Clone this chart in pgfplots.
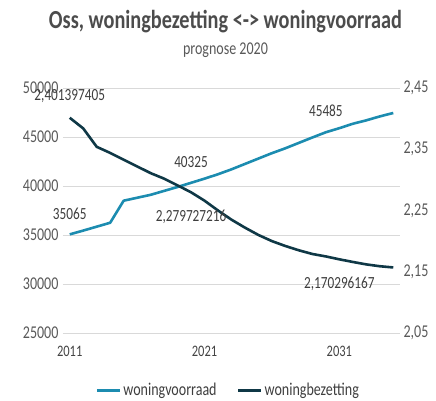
\documentclass[border=0pt]{standalone}
\usepackage{fontspec}
\setmainfont{Carlito}[FakeStretch=0.78]
\usepackage{pgfplots}
\pgfplotsset{compat=1.18}

\definecolor{voorraad}{HTML}{1C8CB0}
\definecolor{bezetting}{HTML}{0F3846}
\definecolor{txt}{HTML}{595959}
\definecolor{grid}{HTML}{D9D9D9}

\newcommand{\fs}[1]{\fontsize{#1}{#1}\selectfont}

\begin{document}
\begin{tikzpicture}
\useasboundingbox (-63pt,-68pt) rectangle (373pt,333pt);

\pgfplotsset{
  common/.style={
    scale only axis,
    width=337pt, height=245pt,
    xmin=2010.5, xmax=2035.5,
    axis line style={draw=none},
    tick style={draw=none},
    tick label style={font=\fs{18}, text=txt},
    /pgf/number format/assume math mode=true,
  },
}

% woningvoorraad, linker as
\begin{axis}[
  common,
  ymin=25000, ymax=50000,
  ytick={25000,30000,...,50000},
  scaled y ticks=false,
  yticklabel style={/pgf/number format/1000 sep={}, xshift=-1pt},
  xtick={2011,2021,2031},
  xticklabel style={/pgf/number format/1000 sep={}, font=\fs{16}, text=txt!75!black, yshift=-10pt},
  ymajorgrids=true,
  grid style={draw=grid, line width=0.8pt},
  legend style={
    at={(0.49,-0.233)}, anchor=center,
    legend columns=2, draw=none, fill=none, font=\fs{18}, text=txt!70!black,
    /tikz/every even column/.append style={column sep=18pt},
    inner xsep=0pt,
  },
  legend cell align=left,
  legend image code/.code={\draw[#1, line width=3pt] (0pt,0pt) -- (23pt,0pt);},
]
\addplot[voorraad, line width=2.6pt, line join=round] coordinates {
  (2011,35065) (2012,35450) (2013,35850) (2014,36250) (2015,38500)
  (2016,38800) (2017,39100) (2018,39500) (2019,39900) (2020,40325)
  (2021,40750) (2022,41200) (2023,41700) (2024,42250) (2025,42800)
  (2026,43350) (2027,43850) (2028,44400) (2029,44950) (2030,45485)
  (2031,45900) (2032,46350) (2033,46700) (2034,47100) (2035,47450)
};
\addlegendentry{woningvoorraad}
\addlegendimage{bezetting}
\addlegendentry{woningbezetting}

\addplot[draw=none, forget plot, nodes near coords, point meta=explicit symbolic,
  nodes near coords style={anchor=center, yshift=21pt, font=\fs{17}, text=txt!70!black}]
  coordinates {(2011,35065)[35065] (2020,40325)[40325] (2030,45485)[45485]};
\end{axis}

% woningbezetting, rechter as
\begin{axis}[
  common,
  axis x line=none,
  axis y line*=right,
  ymin=2.05, ymax=2.45,
  ytick={2.05,2.15,2.25,2.35,2.45},
  yticklabel style={/pgf/number format/.cd, use comma, fixed, fixed zerofill, precision=2},
]
\addplot[bezetting, line width=2.6pt, line join=round] coordinates {
  (2011,2.401397405) (2012,2.384) (2013,2.354) (2014,2.344) (2015,2.333)
  (2016,2.322) (2017,2.311) (2018,2.302) (2019,2.291) (2020,2.279727216)
  (2021,2.266) (2022,2.250) (2023,2.235) (2024,2.222) (2025,2.210)
  (2026,2.200) (2027,2.192) (2028,2.185) (2029,2.179) (2030,2.175)
  (2031,2.170296167) (2032,2.166) (2033,2.162) (2034,2.159) (2035,2.157)
};
\addplot[draw=none, nodes near coords, point meta=explicit symbolic,
  nodes near coords style={anchor=center, yshift=22pt, font=\fs{17}, text=txt!70!black}]
  coordinates {(2011,2.401397405)[{2,401397405}]};
\addplot[draw=none, nodes near coords, point meta=explicit symbolic,
  nodes near coords style={anchor=center, yshift=-25pt, font=\fs{17}, text=txt!70!black}]
  coordinates {(2020,2.279727216)[{2,279727216}] (2031,2.170296167)[{2,170296167}]};
\end{axis}

\node[font=\bfseries\fs{26}, text=txt!85!black] at (162.5pt,311pt) {Oss, woningbezetting <-> woningvoorraad};
\node[font=\fs{18}, text=txt] at (162.5pt,283pt) {prognose 2020};
\end{tikzpicture}
\end{document}
